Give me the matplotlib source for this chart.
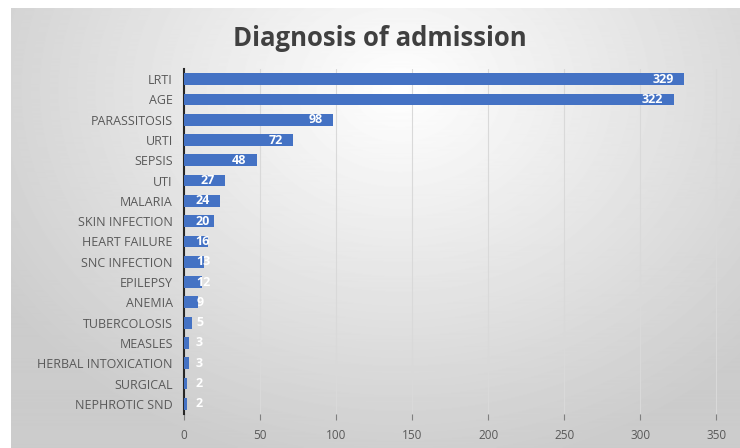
import numpy as np
import matplotlib.pyplot as plt

plt.rcParams['font.family'] = ['Open Sans', 'DejaVu Sans']

# Data
diagnoses = ['LRTI', 'AGE', 'PARASSITOSIS', 'URTI', 'SEPSIS', 'UTI', 'MALARIA',
             'SKIN INFECTION', 'HEART FAILURE', 'SNC INFECTION', 'EPILEPSY',
             'ANEMIA', 'TUBERCOLOSIS', 'MEASLES', 'HERBAL INTOXICATION',
             'SURGICAL', 'NEPHROTIC SND']
cases = [329, 322, 98, 72, 48, 27, 24, 20, 16, 13, 12, 9, 5, 3, 3, 2, 2]
x_ticks = [0, 50, 100, 150, 200, 250, 300, 350]

BAR_COLOR = '#4472C4'

fig = plt.figure(figsize=(7.4, 4.48), dpi=100, facecolor='white')

# soft radial gradient background (the screenshot has a thin white margin top/left)
bg = fig.add_axes([11 / 740, 0, 1 - 11 / 740, 1 - 8 / 448], zorder=-10)
yy, xx = np.mgrid[8:448, 11:740]
r = np.sqrt(((xx - 400) / 520.0) ** 2 + ((yy - 90) / 420.0) ** 2)
shade = np.clip(1.0 - 0.22 * r, 0.80, 1.0)
bg.imshow(shade, cmap='gray', vmin=0, vmax=1, aspect='auto', extent=[0, 1, 0, 1])
bg.axis('off')

ax = fig.add_axes([0.2486, 0.076, 0.7297, 0.770])
ax.patch.set_alpha(0)
ax.set_xlim(0, 355)

y = np.arange(len(diagnoses))
ax.barh(y, cases, height=0.58, color=BAR_COLOR, zorder=3)

# labels sit inside the bar end; tiny bars get them pushed to a minimum spot
for yi, v in zip(y, cases):
    right = max(v - 7, 8 + 4.6 * len(str(v)))
    ax.text(right, yi, str(v), ha='right', va='center', color='white',
            fontsize=9, fontweight='bold', zorder=4)

ax.set_ylim(len(diagnoses) - 0.5, -0.5)
ax.set_yticks(y)
ax.set_yticklabels(diagnoses, fontsize=9, color='#595959')
ax.set_xticks(x_ticks)
ax.set_xticklabels([str(t) for t in x_ticks], fontsize=8.5, color='#595959')
ax.tick_params(axis='y', length=0, pad=8)
ax.tick_params(axis='x', length=4, color='#808080', pad=7)

ax.grid(axis='x', color='#d9d9d9', linewidth=0.8, zorder=0)
for s in ['top', 'right', 'bottom']:
    ax.spines[s].set_visible(False)
ax.spines['left'].set_color('#262626')
ax.spines['left'].set_linewidth(1.5)

fig.text(0.513, 0.915, 'Diagnosis of admission', ha='center', va='center',
         fontsize=18.5, fontweight='bold', color='#404040')

fig.savefig('out.png', dpi=100)
